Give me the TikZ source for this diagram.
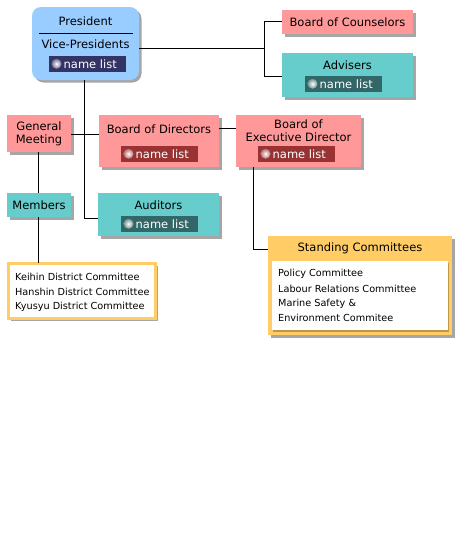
\documentclass[tikz,border=0pt]{standalone}
\usepackage{fontspec}
\setmainfont{DejaVu Sans}
\usetikzlibrary{shadows}
\definecolor{pblue}{HTML}{99CCFF}
\definecolor{ppink}{HTML}{FF9999}
\definecolor{pteal}{HTML}{66CCCC}
\definecolor{porange}{HTML}{FFCC66}
\definecolor{tagblue}{HTML}{333366}
\definecolor{tagred}{HTML}{993333}
\definecolor{tagteal}{HTML}{336666}
\tikzset{
  shad/.style={drop shadow={shadow xshift=2.5pt,shadow yshift=-2.5pt,fill=black,opacity=0.35}},
  box/.style={shad,anchor=north west,inner sep=0pt,outer sep=0pt},
  pinkbox/.style={box,fill=ppink},
  tealbox/.style={box,fill=pteal},
  lbl/.style={font=\fontsize{11.5}{13.5}\selectfont,inner sep=0pt,align=center},
  small/.style={font=\fontsize{9.7}{11}\selectfont,inner sep=0pt,anchor=west},
  tag/.style={anchor=north west,inner sep=0pt,outer sep=0pt},
  tagtxt/.style={font=\fontsize{11.5}{13.5}\selectfont,text=white,inner sep=0pt,anchor=west},
  ball/.style={circle,inner sep=0pt,minimum size=10pt},
  conn/.style={draw=black,line width=0.8pt},
}
\newcommand{\nametag}[4]{% name, x, y, colour
  \node[tag,fill=#4,minimum width=77pt,minimum height=15.5pt] (#1) at (#2,#3) {};
  \node[ball,inner color=white,outer color=#4!70!white] (#1b) at ([xshift=7.5pt]#1.west) {};
  \node[tagtxt] (#1t) at ([xshift=14.5pt]#1.west) {name list};
}
\begin{document}
\begin{tikzpicture}[x=1pt,y=-1pt]
\useasboundingbox[fill=white] (0,0) rectangle (463,555);

% President
\node[box,fill=pblue,rounded corners=9pt,minimum width=107pt,minimum height=73pt] (pres) at (32,7) {};
\node[lbl] (prest) at (85.5,21) {President};
\coordinate (dl) at (39,33);
\coordinate (dr) at (133,33);
\draw[line width=0.8pt] (dl) -- (dr);
\node[lbl] (vpt) at (85.5,44) {Vice-Presidents};
\nametag{prestag}{49}{56}{tagblue}

% Board of Counselors
\node[pinkbox,minimum width=131pt,minimum height=24pt] (boc) at (282,10) {};
\node[lbl] (boct) at (boc.center) {Board of Counselors};

% Advisers
\node[tealbox,minimum width=131pt,minimum height=44pt] (adv) at (282,53) {};
\node[lbl] (advt) at (347.5,65) {Advisers};
\nametag{advtag}{305}{76}{tagteal}

% General Meeting
\node[pinkbox,minimum width=64pt,minimum height=37pt] (gm) at (7,115) {};
\node[lbl,font=\fontsize{11.5}{13}\selectfont] (gmt) at (gm.center) {General\\Meeting};

% Board of Directors
\node[pinkbox,minimum width=120pt,minimum height=52pt] (bod) at (99,115) {};
\node[lbl] (bodt) at (159,129) {Board of Directors};
\nametag{bodtag}{121}{146}{tagred}

% Board of Executive Director
\node[pinkbox,minimum width=125pt,minimum height=52pt] (bed) at (236,115) {};
\node[lbl,font=\fontsize{11.5}{13}\selectfont] (bedt) at (298.5,130.5) {Board of\\Executive Director};
\nametag{bedtag}{258}{146}{tagred}

% Members
\node[tealbox,minimum width=64pt,minimum height=24pt] (mem) at (7,193) {};
\node[lbl] (memt) at (mem.center) {Members};

% Auditors
\node[tealbox,minimum width=121pt,minimum height=43pt] (aud) at (98,193) {};
\node[lbl] (audt) at (158.5,205) {Auditors};
\nametag{audtag}{121}{216}{tagteal}

% District committees
\node[box,fill=white,draw=porange,line width=3pt,minimum width=147pt,minimum height=55pt] (dist) at (8,263) {};
\node[small] (d1) at (15,277) {Keihin District Committee};
\node[small] (d2) at (15,292) {Hanshin District Committee};
\node[small] (d3) at (15,307) {Kyusyu District Committee};

% Standing Committees
\node[box,fill=porange,minimum width=184pt,minimum height=99pt] (sc) at (268,236) {};
\node[lbl] (sct) at (360,248.5) {Standing Committees};
\node[tag,fill=white,minimum width=176pt,minimum height=69pt,drop shadow={shadow xshift=1pt,shadow yshift=-1.5pt,fill=black,opacity=0.25}] (scin) at (272,261) {};
\node[small] (s1) at (278,274) {Policy Committee};
\node[small] (s2) at (278,289) {Labour Relations Committee};
\node[small] (s3) at (278,304) {Marine Safety \&};
\node[small] (s4) at (278,318) {Environment Commitee};

% Connectors
\coordinate (spine1) at (264,48);
\coordinate (spine2) at (264,21);
\coordinate (spine3) at (264,76);
\draw[conn] (pres.east |- spine1) -- (spine1);
\draw[conn] (spine2) -- (spine3);
\draw[conn] (spine2) -- (boc.west |- spine2);
\draw[conn] (spine3) -- (adv.west |- spine3);

\coordinate (pb) at (84,80);
\coordinate (pa) at (84,218);
\draw[conn] (pb) -- (pa) -- (aud.west |- pa);

\coordinate (gmr) at (71,134);
\draw[conn] (gmr) -- (bod.west |- gmr);

\coordinate (bodr) at (219,128);
\draw[conn] (bodr) -- (bed.west |- bodr);

\coordinate (bedb) at (253,167);
\coordinate (bedc) at (253,249);
\draw[conn] (bedb) -- (bedc) -- (sc.west |- bedc);

\coordinate (gmb) at (38,152);
\draw[conn] (gmb) -- (gmb |- mem.north);
\coordinate (memb) at (38,217);
\draw[conn] (memb) -- (memb |- dist.north);
\end{tikzpicture}
\end{document}
